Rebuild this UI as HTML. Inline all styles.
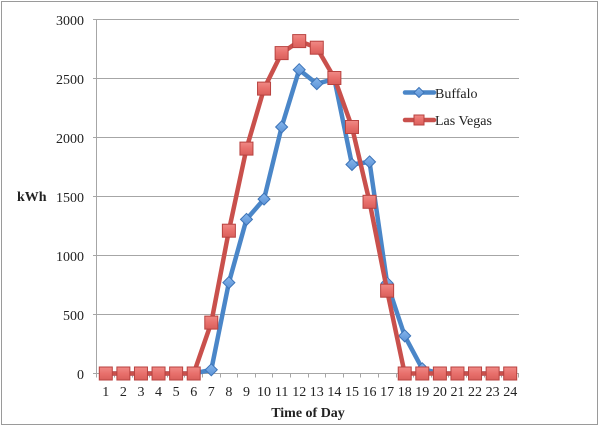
<!DOCTYPE html>
<html><head><meta charset="utf-8"><style>
html,body{margin:0;padding:0;background:#fff;}
svg{display:block;}
text{font-family:"Liberation Serif",serif;fill:#222;}
</style></head><body>
<svg width="600" height="427" viewBox="0 0 600 427" xmlns="http://www.w3.org/2000/svg">
<defs>
<linearGradient id="rg" x1="0" y1="0" x2="0" y2="1">
<stop offset="0" stop-color="#f08a86"/><stop offset="0.5" stop-color="#e8706c"/><stop offset="1" stop-color="#d95f5b"/>
</linearGradient>
<linearGradient id="bg" x1="0" y1="0" x2="0" y2="1">
<stop offset="0" stop-color="#86b6ec"/><stop offset="1" stop-color="#5b92d6"/>
</linearGradient>
<g id="sq"><rect x="-6.5" y="-6.5" width="13" height="13" fill="url(#rg)" stroke="#b8423f" stroke-width="1"/></g>
<g id="dm"><path d="M0,-6 L6,0 L0,6 L-6,0 Z" fill="url(#bg)" stroke="#3d74b8" stroke-width="1"/></g>
</defs>
<rect x="1.5" y="1.5" width="596" height="423" fill="#fff" stroke="#9a9a9a" stroke-width="1"/>
<!-- gridlines -->
<g stroke="#a6a6a6" stroke-width="1">
<line x1="93" y1="19.5" x2="519" y2="19.5"/>
<line x1="93" y1="78.5" x2="519" y2="78.5"/>
<line x1="93" y1="137.5" x2="519" y2="137.5"/>
<line x1="93" y1="196.5" x2="519" y2="196.5"/>
<line x1="93" y1="255.5" x2="519" y2="255.5"/>
<line x1="93" y1="314.5" x2="519" y2="314.5"/>
<line x1="93" y1="373.5" x2="519" y2="373.5"/>
<line x1="96.5" y1="19" x2="96.5" y2="374"/>
</g>
<!-- x ticks -->
<g stroke="#a6a6a6" stroke-width="1">
<path d="M96.5,373.5v4 M114.5,373.5v4 M132.5,373.5v4 M149.5,373.5v4 M167.5,373.5v4 M184.5,373.5v4 M202.5,373.5v4 M220.5,373.5v4 M237.5,373.5v4 M255.5,373.5v4 M272.5,373.5v4 M290.5,373.5v4 M308.5,373.5v4 M325.5,373.5v4 M343.5,373.5v4 M360.5,373.5v4 M378.5,373.5v4 M396.5,373.5v4 M413.5,373.5v4 M431.5,373.5v4 M448.5,373.5v4 M466.5,373.5v4 M484.5,373.5v4 M501.5,373.5v4 M518.5,373.5v4"/>
</g>
<!-- y labels -->
<g font-size="14" text-anchor="end">
<text x="84" y="25">3000</text>
<text x="84" y="84">2500</text>
<text x="84" y="143">2000</text>
<text x="84" y="202">1500</text>
<text x="84" y="261">1000</text>
<text x="84" y="320">500</text>
<text x="84" y="379">0</text>
</g>
<text x="17" y="201" font-size="14" font-weight="bold">kWh</text>
<!-- x labels -->
<g font-size="14" text-anchor="middle">
<text x="105.79" y="396">1</text><text x="123.38" y="396">2</text><text x="140.96" y="396">3</text><text x="158.54" y="396">4</text>
<text x="176.13" y="396">5</text><text x="193.71" y="396">6</text><text x="211.29" y="396">7</text><text x="228.88" y="396">8</text>
<text x="246.46" y="396">9</text><text x="264.04" y="396">10</text><text x="281.63" y="396">11</text><text x="299.21" y="396">12</text>
<text x="316.79" y="396">13</text><text x="334.38" y="396">14</text><text x="351.96" y="396">15</text><text x="369.54" y="396">16</text>
<text x="387.13" y="396">17</text><text x="404.71" y="396">18</text><text x="422.29" y="396">19</text><text x="439.88" y="396">20</text>
<text x="457.46" y="396">21</text><text x="475.04" y="396">22</text><text x="492.63" y="396">23</text><text x="510.21" y="396">24</text>
</g>
<text x="308" y="417" font-size="14" font-weight="bold" text-anchor="middle">Time of Day</text>
<!-- Buffalo -->
<polyline fill="none" stroke="#4a86c8" stroke-width="4.5" stroke-linejoin="round" points="105.79,373.5 123.38,373.5 140.96,373.5 158.54,373.5 176.13,373.5 193.71,373.5 211.29,369.8 228.88,282.6 246.46,219.4 264.04,199.1 281.63,127 299.21,69.7 316.79,83.7 334.38,79.1 351.96,164.5 369.54,161.9 387.13,283.2 404.71,335.9 422.29,368.8 439.88,373.5 457.46,373.5 475.04,373.5 492.63,373.5 510.21,373.5"/>
<g>
<use href="#dm" x="105.79" y="373.5"/><use href="#dm" x="123.38" y="373.5"/><use href="#dm" x="140.96" y="373.5"/><use href="#dm" x="158.54" y="373.5"/>
<use href="#dm" x="176.13" y="373.5"/><use href="#dm" x="193.71" y="373.5"/><use href="#dm" x="211.29" y="369.8"/><use href="#dm" x="228.88" y="282.6"/>
<use href="#dm" x="246.46" y="219.4"/><use href="#dm" x="264.04" y="199.1"/><use href="#dm" x="281.63" y="127"/><use href="#dm" x="299.21" y="69.7"/>
<use href="#dm" x="316.79" y="83.7"/><use href="#dm" x="334.38" y="79.1"/><use href="#dm" x="351.96" y="164.5"/><use href="#dm" x="369.54" y="161.9"/>
<use href="#dm" x="387.13" y="283.2"/><use href="#dm" x="404.71" y="335.9"/><use href="#dm" x="422.29" y="368.8"/><use href="#dm" x="439.88" y="373.5"/>
<use href="#dm" x="457.46" y="373.5"/><use href="#dm" x="475.04" y="373.5"/><use href="#dm" x="492.63" y="373.5"/><use href="#dm" x="510.21" y="373.5"/>
</g>
<!-- Las Vegas -->
<polyline fill="none" stroke="#c9504c" stroke-width="4.5" stroke-linejoin="round" points="105.79,373.5 123.38,373.5 140.96,373.5 158.54,373.5 176.13,373.5 193.71,373.5 211.29,322.6 228.88,230.7 246.46,148.6 264.04,88.6 281.63,53.1 299.21,41.1 316.79,47.7 334.38,78 351.96,127 369.54,201.8 387.13,290.7 404.71,373.5 422.29,373.5 439.88,373.5 457.46,373.5 475.04,373.5 492.63,373.5 510.21,373.5"/>
<g>
<use href="#sq" x="105.79" y="373.5"/><use href="#sq" x="123.38" y="373.5"/><use href="#sq" x="140.96" y="373.5"/><use href="#sq" x="158.54" y="373.5"/>
<use href="#sq" x="176.13" y="373.5"/><use href="#sq" x="193.71" y="373.5"/><use href="#sq" x="211.29" y="322.6"/><use href="#sq" x="228.88" y="230.7"/>
<use href="#sq" x="246.46" y="148.6"/><use href="#sq" x="264.04" y="88.6"/><use href="#sq" x="281.63" y="53.1"/><use href="#sq" x="299.21" y="41.1"/>
<use href="#sq" x="316.79" y="47.7"/><use href="#sq" x="334.38" y="78"/><use href="#sq" x="351.96" y="127"/><use href="#sq" x="369.54" y="201.8"/>
<use href="#sq" x="387.13" y="290.7"/><use href="#sq" x="404.71" y="373.5"/><use href="#sq" x="422.29" y="373.5"/><use href="#sq" x="439.88" y="373.5"/>
<use href="#sq" x="457.46" y="373.5"/><use href="#sq" x="475.04" y="373.5"/><use href="#sq" x="492.63" y="373.5"/><use href="#sq" x="510.21" y="373.5"/>
</g>
<!-- Legend -->
<line x1="405" y1="92.5" x2="434" y2="92.5" stroke="#4a86c8" stroke-width="4.5" stroke-linecap="round"/>
<path d="M419,87.5 L424,92.5 L419,97.5 L414,92.5 Z" fill="url(#bg)" stroke="#3d74b8" stroke-width="1"/>
<line x1="405" y1="120" x2="434" y2="120" stroke="#c9504c" stroke-width="4.5" stroke-linecap="round"/>
<rect x="414" y="115" width="10" height="10" fill="url(#rg)" stroke="#b8423f" stroke-width="1"/>
<text x="435" y="98" font-size="14">Buffalo</text>
<text x="435" y="125" font-size="14">Las Vegas</text>
</svg>
</body></html>
